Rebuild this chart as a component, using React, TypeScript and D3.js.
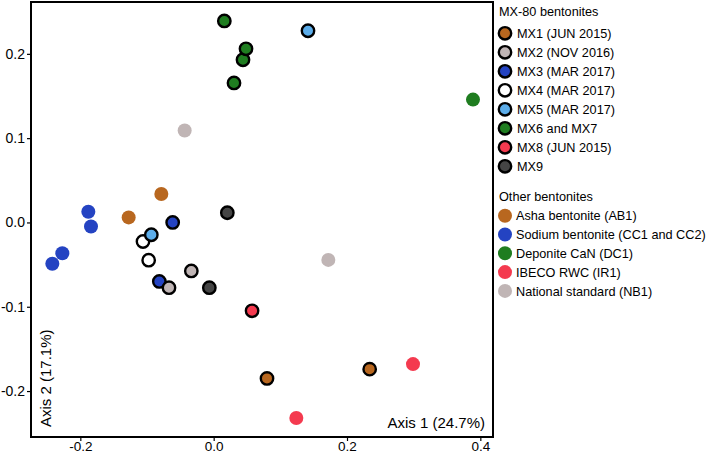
import { useEffect, useRef } from 'react';
import * as d3 from 'd3';

// sample coordinates: [axis1, axis2]
const mx1 = [[0.080, -0.185], [0.234, -0.174]];
const mx2 = [[-0.0335, -0.0575], [-0.067, -0.0774]];
const mx3 = [[-0.0615, 0.0], [-0.0815, -0.070]];
const mx4 = [[-0.106, -0.0226], [-0.0975, -0.0448]];
const mx5 = [[-0.0935, -0.0146], [0.1415, 0.2274]];
const mx67 = [[0.016, 0.239], [0.044, 0.193], [0.0485, 0.206], [0.0305, 0.1655]];
const mx8 = [[0.0576, -0.1048]];
const mx9 = [[0.0205, 0.0115], [-0.0065, -0.0774]];

const ab1 = [[-0.0785, 0.0338], [-0.1275, 0.006]];
const cc = [[-0.188, 0.0127], [-0.184, -0.0048], [-0.227, -0.0365], [-0.242, -0.049]];
const dc1 = [[0.389, 0.1457]];
const ir1 = [[0.299, -0.168], [0.124, -0.232]];
const nb1 = [[-0.0435, 0.109], [0.172, -0.0444]];

const mxLabels = ['MX1 (JUN 2015)', 'MX2 (NOV 2016)', 'MX3 (MAR 2017)', 'MX4 (MAR 2017)', 'MX5 (MAR 2017)', 'MX6 and MX7', 'MX8 (JUN 2015)', 'MX9'];
const otherLabels = ['Asha bentonite (AB1)', 'Sodium bentonite (CC1 and CC2)', 'Deponite CaN (DC1)', 'IBECO RWC (IR1)', 'National standard (NB1)'];

const xTicks = [-0.2, 0.0, 0.2, 0.4];
const yTicks = [-0.2, -0.1, 0.0, 0.1, 0.2];

const C = {
  orange: '#b8671f',
  grey: '#c0b5b5',
  blue: '#2443c2',
  white: '#ffffff',
  lightblue: '#5cadea',
  green: '#1f7d20',
  red: '#f43a4f',
  dark: '#454545',
};

const mxColors = [C.orange, C.grey, C.blue, C.white, C.lightblue, C.green, C.red, C.dark];
const otherColors = [C.orange, C.blue, C.green, C.red, C.grey];

export default function App() {
  const svgRef = useRef<SVGSVGElement>(null);

  useEffect(() => {
    if (!svgRef.current) return;
    const svg = d3.select(svgRef.current);
    svg.selectAll('*').remove();

    const font = '"Liberation Sans", Arial, sans-serif';

    const x = d3.scaleLinear().domain([-0.274, 0.419]).range([31, 493]);
    const y = d3.scaleLinear().domain([-0.2545, 0.2615]).range([437, 2]);

    // frame
    svg.append('rect')
      .attr('x', x.range()[0]).attr('y', y.range()[1])
      .attr('width', x.range()[1] - x.range()[0])
      .attr('height', y.range()[0] - y.range()[1])
      .attr('fill', 'none').attr('stroke', '#000').attr('stroke-width', 2);

    const fmt = (d: any) => (+d).toFixed(1);

    svg.append('g')
      .attr('transform', `translate(0,${y.range()[0]})`)
      .call(d3.axisBottom(x).tickValues(xTicks).tickFormat(fmt).tickSize(4).tickPadding(2))
      .call(g => g.select('.domain').remove())
      .call(g => g.selectAll('line').attr('stroke-width', 1.2))
      .call(g => g.selectAll('text')
        .attr('y', 0).attr('dy', null)
        .attr('transform', 'translate(0,14.2)')
        .attr('font-size', 13.5).attr('font-family', font).attr('fill', '#000'));

    svg.append('g')
      .attr('transform', `translate(${x.range()[0]},0)`)
      .call(d3.axisLeft(y).tickValues(yTicks).tickFormat(fmt).tickSize(4).tickPadding(2))
      .call(g => g.select('.domain').remove())
      .call(g => g.selectAll('line').attr('stroke-width', 1.2))
      .call(g => g.selectAll('text').attr('font-size', 14).attr('font-family', font).attr('fill', '#000'));

    // axis titles inside the frame
    svg.append('text')
      .attr('x', 485).attr('y', 428)
      .attr('text-anchor', 'end')
      .attr('font-size', 15).attr('font-family', font)
      .text('Axis 1 (24.7%)');

    svg.append('text')
      .attr('transform', 'translate(50.5,427) rotate(-90)')
      .attr('font-size', 15).attr('font-family', font)
      .text('Axis 2 (17.1%)');

    // reference bentonites: plain filled points
    const plain = [ab1, cc, dc1, ir1, nb1];
    plain.forEach((pts, i) => {
      svg.append('g').selectAll('circle')
        .data(pts).join('circle')
        .attr('cx', d => x(d[0])).attr('cy', d => y(d[1]))
        .attr('r', 7).attr('fill', otherColors[i]);
    });

    // MX-80 samples: outlined points
    const mxDrawOrder = [3, 2, 1, 4, 0, 5, 6, 7];
    const mxSeries = [mx1, mx2, mx3, mx4, mx5, mx67, mx8, mx9];
    mxDrawOrder.forEach(i => {
      svg.append('g').selectAll('circle')
        .data(mxSeries[i]).join('circle')
        .attr('cx', d => x(d[0])).attr('cy', d => y(d[1]))
        .attr('r', 6.2).attr('fill', mxColors[i])
        .attr('stroke', '#000').attr('stroke-width', 2.4);
    });

    // legend
    const lg = svg.append('g').attr('font-family', font).attr('font-size', 12.7).attr('fill', '#000');
    lg.append('text').attr('x', 499).attr('y', 16).text('MX-80 bentonites');
    mxLabels.forEach((lab, i) => {
      const cy = 33.3 + i * 19;
      lg.append('circle').attr('cx', 505).attr('cy', cy).attr('r', 6.2)
        .attr('fill', mxColors[i]).attr('stroke', '#000').attr('stroke-width', 2.4);
      lg.append('text').attr('x', 517).attr('y', cy + 4.6).text(lab);
    });
    lg.append('text').attr('x', 499).attr('y', 200.5).text('Other bentonites');
    otherLabels.forEach((lab, i) => {
      const cy = 215.7 + i * 18.8;
      lg.append('circle').attr('cx', 505).attr('cy', cy).attr('r', 7).attr('fill', otherColors[i]);
      lg.append('text').attr('x', 516).attr('y', cy + 4.6).text(lab);
    });
  }, []);

  return (
    <svg ref={svgRef} width={709} height={453}
      style={{ position: 'absolute', left: 0, top: 0, background: '#fff' }} />
  );
}
